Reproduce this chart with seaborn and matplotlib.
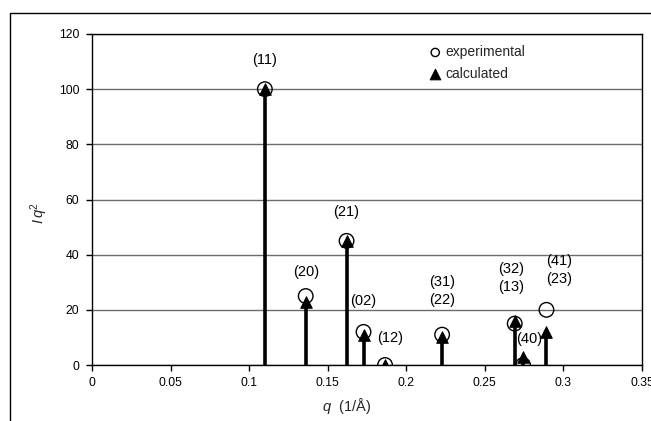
"""Stem chart: experimental vs calculated peak intensities I*q^2 against q."""
import matplotlib
matplotlib.use("Agg")
import matplotlib.pyplot as plt
from matplotlib.patches import Rectangle
import pandas as pd
import seaborn as sns

# ── data ──────────────────────────────────────────────────────────────────────
q = [0.110, 0.136, 0.162, 0.1728, 0.1865, 0.2228, 0.269, 0.2743, 0.2892]
experimental = [100, 25, 45, 12, 0, 11, 15, 0, 20]
q_calc = [0.110, 0.136, 0.162, 0.1728, 0.1865, 0.2228, 0.269, 0.2743, 0.2892]
calculated = [100, 23, 45, 11, 0, 10, 16, 3, 12]
peak_labels = ["(11)", "(20)", "(21)", "(02)", "(12)", "(31)\n(22)",
               "(32)\n(13)", "(40)", "(41)\n(23)"]
x_ticks = [0, 0.05, 0.1, 0.15, 0.2, 0.25, 0.3, 0.35]
y_ticks = [0, 20, 40, 60, 80, 100, 120]

# label anchor positions (layout only)
label_xy = [(0.110, 110.5), (0.136, 33.7), (0.162, 55.4), (0.1728, 23.2),
            (0.1895, 9.8), (0.2228, 26.8), (0.2665, 31.5), (0.2785, 9.4),
            (0.2975, 34.4)]

exp_df = pd.DataFrame({"q": q, "I": experimental})
calc_df = pd.DataFrame({"q": q_calc, "I": calculated})

sns.set_theme(style="white")
plt.rcParams["font.family"] = ["Liberation Sans", "DejaVu Sans"]
plt.rcParams["mathtext.fontset"] = "custom"
plt.rcParams["mathtext.it"] = "Liberation Sans:italic"
plt.rcParams["mathtext.rm"] = "Liberation Sans"

fig = plt.figure(figsize=(6.51, 4.21), dpi=100)
ax = fig.add_axes([92 / 651, 1 - 365 / 421, 550 / 651, 331 / 421])

# outer chart frame (runs off the right and bottom of the image)
fig.patches.append(Rectangle((10 / 651, -0.1), 1.2, 1.1 - 13 / 421,
                             transform=fig.transFigure, fill=False,
                             edgecolor="black", lw=1.0, clip_on=False))

ax.vlines(calc_df["q"], 0, calc_df["I"], colors="black", lw=2.6, zorder=3)
sns.scatterplot(data=exp_df, x="q", y="I", ax=ax, marker="o", s=110,
                facecolor="none", edgecolor="black", linewidth=1.0,
                zorder=4, label="experimental")
sns.scatterplot(data=calc_df, x="q", y="I", ax=ax, marker="^", s=70,
                color="black", edgecolor="black", zorder=5,
                label="calculated")

for text, (lx, ly) in zip(peak_labels, label_xy):
    ax.text(lx, ly, text, ha="center", va="center", fontsize=10.5,
            linespacing=1.3, color="black")

ax.set_xlim(0, 0.35)
ax.set_ylim(0, 120)
ax.set_xticks(x_ticks)
ax.set_xticklabels([f"{t:g}" for t in x_ticks])
ax.set_yticks(y_ticks)
ax.yaxis.grid(True, color="#6b6b6b", lw=1.0)
ax.xaxis.grid(False)
ax.tick_params(axis="both", direction="out", length=4, width=1.0,
               colors="black", labelsize=8.8, pad=5)
ax.tick_params(axis="both", bottom=True, left=True)
for side in ax.spines.values():
    side.set_color("black")
    side.set_linewidth(1.0)

ax.set_xlabel(r"$q$  (1/Å)", fontsize=10.5)
ax.xaxis.set_label_coords(255 / 550, -31 / 331)
ax.set_ylabel(r"$I\,q^2$", fontsize=10.5)
ax.yaxis.set_label_coords(-42 / 550, 152 / 331)

leg = ax.legend(loc="upper left", bbox_to_anchor=(0.59, 1.0), frameon=False,
                handletextpad=0.15, handlelength=1.1, fontsize=10,
                borderaxespad=0.4, labelspacing=0.55)
leg.legend_handles[0].set_sizes([35])
leg.legend_handles[1].set_sizes([60])

fig.savefig("out.png", dpi=100)
